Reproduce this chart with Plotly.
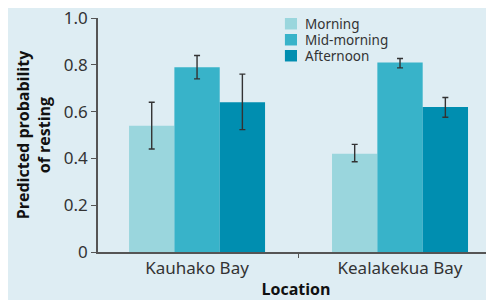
import plotly.graph_objects as go

locations = ["Kauhako Bay", "Kealakekua Bay"]
series_names = ["Morning", "Mid-morning", "Afternoon"]
values = {
    "Morning": [0.54, 0.42],
    "Mid-morning": [0.79, 0.81],
    "Afternoon": [0.64, 0.62],
}
err_plus = {
    "Morning": [0.10, 0.04],
    "Mid-morning": [0.05, 0.017],
    "Afternoon": [0.12, 0.04],
}
err_minus = {
    "Morning": [0.10, 0.034],
    "Mid-morning": [0.05, 0.023],
    "Afternoon": [0.117, 0.044],
}
colors = {"Morning": "#9ad6dd", "Mid-morning": "#38b3c9", "Afternoon": "#008eb0"}

y_ticks = [0, 0.2, 0.4, 0.6, 0.8, 1.0]
y_ticktext = ["0", "0.2", "0.4", "0.6", "0.8", "1.0"]

fig = go.Figure()
for s in series_names:
    fig.add_trace(go.Bar(
        x=locations, y=values[s], name=s, showlegend=False,
        marker=dict(color=colors[s], line=dict(width=0)),
        error_y=dict(type="data", symmetric=False, array=err_plus[s], arrayminus=err_minus[s],
                     color="#333333", thickness=1.4, width=3),
    ))

font = "Open Sans, Noto Sans, sans-serif"

# compact legend (squares + labels)
shapes = []
annotations = []
leg_x0, leg_x1, leg_text_x = 0.472, 0.5025, 0.518
row_top, row_h, sq_h = 1.0, 0.0684, 0.049
for i, s in enumerate(series_names):
    top = row_top - i * row_h
    shapes.append(dict(type="rect", xref="paper", yref="paper", x0=leg_x0, x1=leg_x1,
                       y0=top - sq_h, y1=top, fillcolor=colors[s], line=dict(width=0)))
    annotations.append(dict(xref="paper", yref="paper", x=leg_text_x, y=top - sq_h / 2,
                            xanchor="left", yanchor="middle", text=s, showarrow=False,
                            font=dict(size=13.5, color="#333333", family="Noto Sans, sans-serif")))

fig.update_layout(
    width=486, height=292,
    barmode="group", bargap=0.33, bargroupgap=0,
    paper_bgcolor="#deedf3", plot_bgcolor="#deedf3",
    margin=dict(l=90, r=0, t=10, b=48, autoexpand=False),
    font=dict(family=font, color="#333333"),
    shapes=shapes, annotations=annotations,
    xaxis=dict(range=[-0.488, 1.463], showline=True, linecolor="#555555", linewidth=1.5,
               ticks="outside", tickson="boundaries", ticklen=4, tickcolor="#555555",
               tickfont=dict(size=17, color="#333333", family="Noto Sans, sans-serif"), automargin=False,
               title=dict(text="<b>Location</b>", font=dict(size=16, color="#111111"), standoff=7)),
    yaxis=dict(range=[0, 1.0], tickvals=y_ticks, ticktext=y_ticktext, showline=True,
               linecolor="#555555", linewidth=1.5, ticks="outside", ticklen=5, tickcolor="#555555",
               showgrid=False, zeroline=False, automargin=False, ticklabeloverflow="allow",
               tickfont=dict(size=17, color="#333333", family="Noto Sans, sans-serif"),
               title=dict(text="<b>Predicted probability<br>of resting</b>",
                          font=dict(size=16, color="#111111"), standoff=9)),
)
fig.write_html("out.html")
